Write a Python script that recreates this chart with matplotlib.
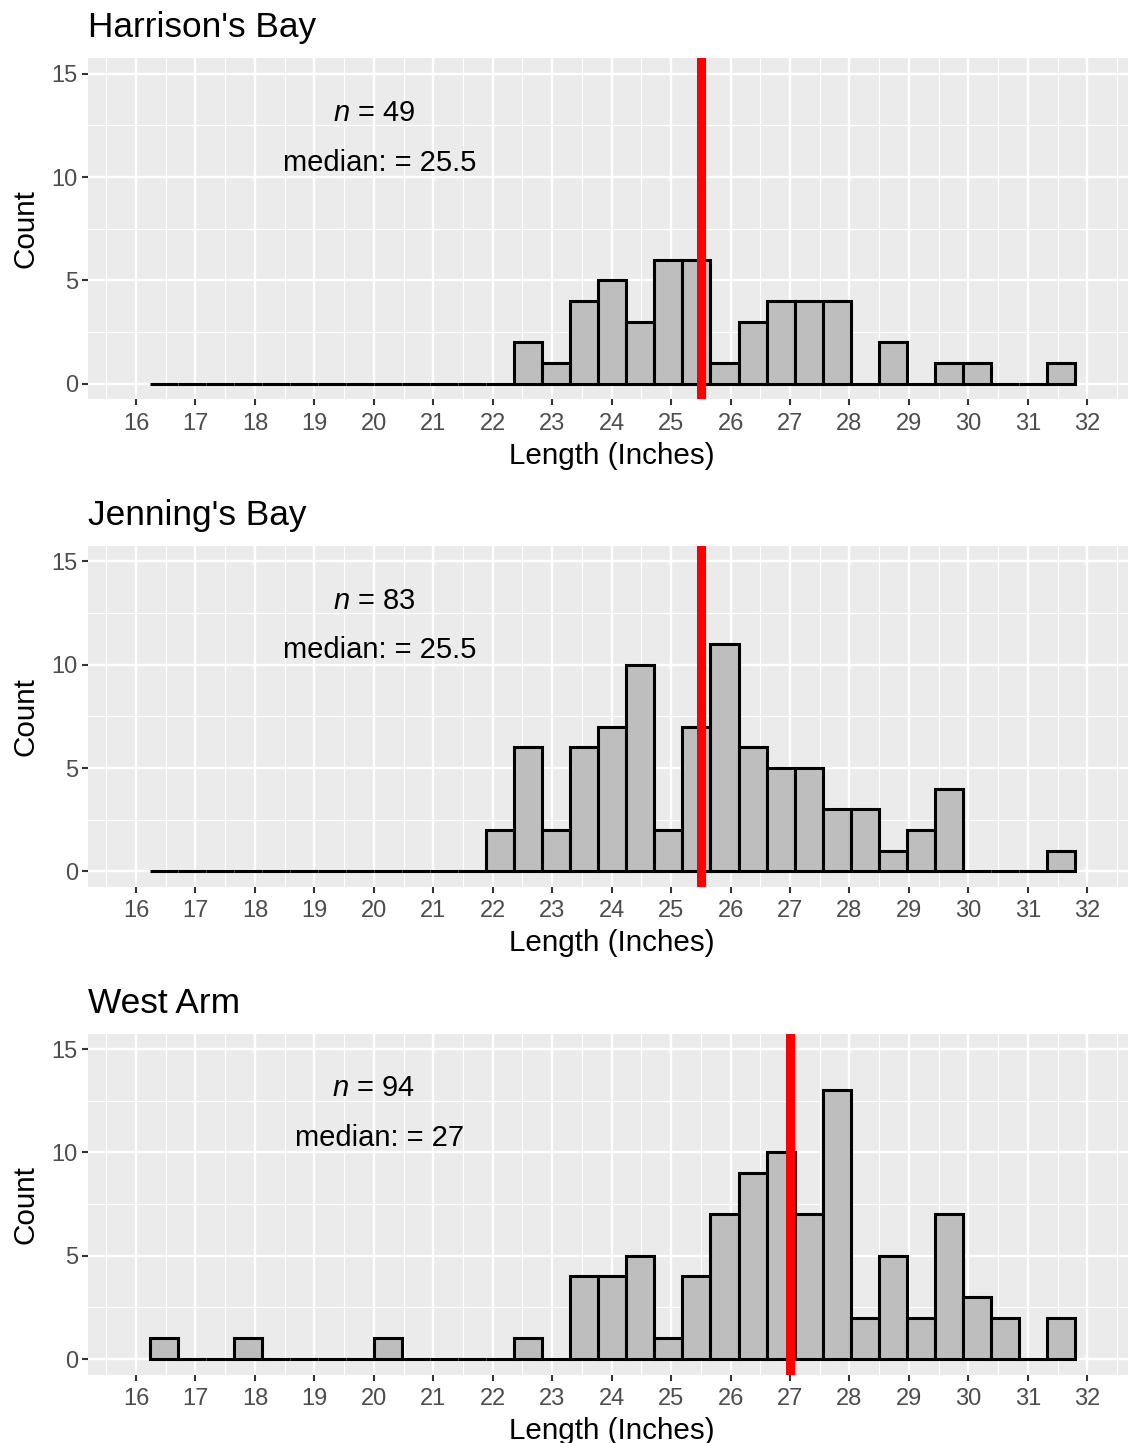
import numpy as np
import matplotlib
matplotlib.use("Agg")
import matplotlib.pyplot as plt
from matplotlib.ticker import MultipleLocator

plt.rcParams['font.family'] = ['Liberation Sans', 'DejaVu Sans']
plt.rcParams['mathtext.fontset'] = 'custom'
plt.rcParams['mathtext.rm'] = 'Liberation Sans'
plt.rcParams['mathtext.it'] = 'Liberation Sans:italic'

# 33 bins shared by all three sites
bin_lo = 16.235
bin_hi = 31.79
n_bins = 33

sites = ["Harrison's Bay", "Jenning's Bay", "West Arm"]
n_fish = [49, 83, 94]
medians = [25.5, 25.5, 27]

harrison_counts = [0, 0, 0, 0, 0, 0, 0, 0, 0, 0, 0, 0, 0, 2, 1, 4, 5, 3, 6, 6, 1,
                   3, 4, 4, 4, 0, 2, 0, 1, 1, 0, 0, 1]
jennings_counts = [0, 0, 0, 0, 0, 0, 0, 0, 0, 0, 0, 0, 2, 6, 2, 6, 7, 10, 2, 7, 11,
                   6, 5, 5, 3, 3, 1, 2, 4, 0, 0, 0, 1]
westarm_counts = [1, 0, 0, 1, 0, 0, 0, 0, 1, 0, 0, 0, 0, 1, 0, 4, 4, 5, 1, 4, 7,
                  9, 10, 7, 13, 2, 5, 2, 7, 3, 2, 0, 2]
all_counts = [harrison_counts, jennings_counts, westarm_counts]

edges = np.linspace(bin_lo, bin_hi, n_bins + 1)
widths = np.diff(edges)

W, H = 1128, 1443
fig = plt.figure(figsize=(W / 100, H / 100), dpi=100)

left_px = 88.4
right_px = 1134.9
panel_h = 341.0
top_px = [58.3, 545.95, 1033.6]

for i in range(3):
    top = top_px[i]
    ax = fig.add_axes([left_px / W, (H - top - panel_h) / H,
                       (right_px - left_px) / W, panel_h / H])
    ax.set_facecolor('#EBEBEB')
    for s in ax.spines.values():
        s.set_visible(False)

    ax.set_xlim(15.2, 32.8)
    ax.set_ylim(-0.75, 15.75)
    ax.xaxis.set_major_locator(MultipleLocator(1))
    ax.xaxis.set_minor_locator(MultipleLocator(0.5))
    ax.yaxis.set_major_locator(MultipleLocator(5))
    ax.yaxis.set_minor_locator(MultipleLocator(2.5))
    ax.grid(which='major', color='white', linewidth=1.7)
    ax.grid(which='minor', color='white', linewidth=0.85)
    ax.set_axisbelow(True)

    ax.tick_params(which='major', length=4.6, width=1.5, color='#333333',
                   labelsize=17, labelcolor='#4D4D4D', pad=3)
    ax.tick_params(axis='x', which='major', pad=5)
    ax.tick_params(which='minor', length=0)

    ax.bar(edges[:-1], all_counts[i], width=widths, align='edge',
           color='#BEBEBE', edgecolor='black', linewidth=2.2, zorder=2)
    ax.axvline(medians[i], color='#FF0000', linewidth=6.5, zorder=3)

    ax.text(20.0, 13.1, r"$n$ = %d" % n_fish[i], ha='center', va='center',
            fontsize=21, color='black')
    med_txt = ("%g" % medians[i])
    ax.text(20.1, 10.7, "median: = " + med_txt, ha='center', va='center',
            fontsize=21, color='black')

    ax.set_xlabel("Length (Inches)", fontsize=21.3, labelpad=5)
    ax.set_ylabel("Count", fontsize=21.3, labelpad=9)
    ax.set_title(sites[i], loc='left', fontsize=25.4, pad=15)

fig.savefig("out.png", dpi=100)
